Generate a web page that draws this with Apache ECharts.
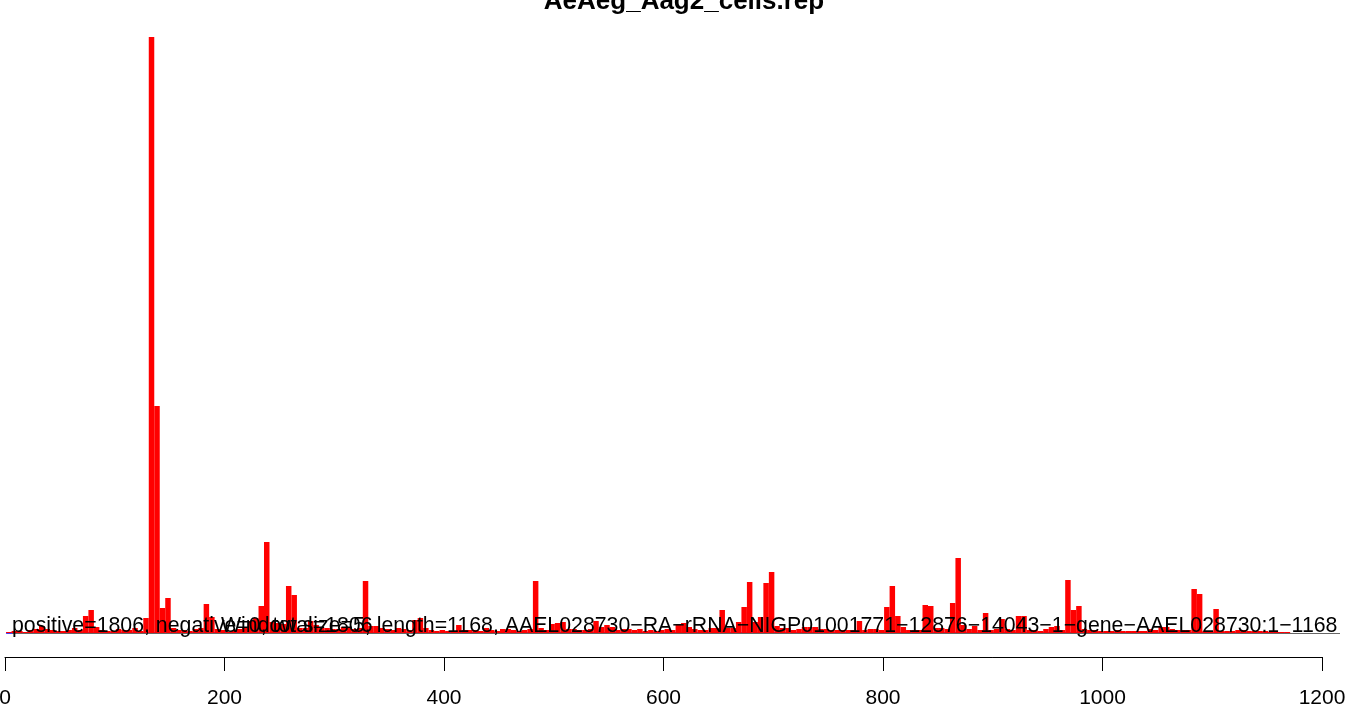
<!DOCTYPE html>
<html>
<head>
<meta charset="utf-8">
<script src="https://cdn.jsdelivr.net/npm/echarts@6/dist/echarts.min.js"></script>
<style>
html,body{margin:0;padding:0;background:#fff;}
#chart{width:1349px;height:704px;}
</style>
</head>
<body>
<div id="chart"></div>
<script>
// ---- data ----
const titleText = "AeAeg_Aag2_cells.rep";
const windowSize = 5;
const firstPosition = 1;
const seqLength = 1168;
const xTicks = [0, 200, 400, 600, 800, 1000, 1200];
const statsText = "positive=1806, negative=0, total=1806";
const infoText = "Window size=5, length=1168, AAEL028730\u2212RA\u2212rRNA\u2212NIGP01001771\u221212876\u221214043\u22121\u2212gene\u2212AAEL028730:1\u22121168";
// coverage per window (windows start at 1,6,11,...) – positive strand
const positiveCoverage = [
  1,2,2,1,3,4,7,4,3,2, 2,3,5,3,17,23,6,3,2,2,
  4,3,3,5,2,15,596,227,25,35, 5,3,3,2,4,5,29,16,4,3,
  1,2,4,5,12,15,27,91,11,10, 9,47,38,5,5,12,8,5,5,4,
  4,6,5,4,5,52,7,7,5,4, 3,5,4,3,13,15,5,3,2,3,
  2,2,8,3,3,3,2,5,3,2, 4,4,3,2,3,4,52,5,3,9,
  10,11,4,4,3,3,4,12,6,8, 6,3,4,4,3,4,2,3,2,3,
  4,3,9,10,6,4,3,3,5,5, 23,5,5,11,26,51,11,16,50,61,
  7,5,5,3,4,6,6,6,4,4, 3,3,3,3,3,12,3,4,4,3,
  26,47,17,6,3,3,3,28,27,5, 5,4,30,75,8,4,7,3,20,3,
  4,14,4,3,17,17,3,3,2,4, 6,7,3,53,23,27,4,3,3,2,
  2,2,3,2,2,2,2,2,4,3, 6,6,4,3,3,3,44,39,2,2,
  24,2,2,2,3,3,2,2,2,2, 1,1,1,1
];
// negative strand coverage (all zero)
const negativeCoverage = positiveCoverage.map(() => 0);

const posData = positiveCoverage.map((v, i) => [firstPosition + i * windowSize, v]);
const negData = negativeCoverage.map((v, i) => [firstPosition + i * windowSize, v]);

const chart = echarts.init(document.getElementById('chart'));
const FONT = "'Liberation Sans', Arial, Helvetica, sans-serif";

function rectItem(color) {
  return function (params, api) {
    const x0 = api.value(0), v = api.value(1);
    const p0 = api.coord([x0, 0]);
    const p1 = api.coord([x0 + windowSize, v]);
    return {
      type: 'rect',
      shape: { x: p0[0], y: p1[1], width: p1[0] - p0[0], height: p0[1] - p1[1] },
      style: { fill: color }
    };
  };
}

chart.setOption({
  animation: false,
  backgroundColor: '#ffffff',
  title: {
    text: titleText,
    left: 679, textAlign: 'center',
    top: -16,
    textStyle: { fontFamily: FONT, fontSize: 26, fontWeight: 'bold', color: '#000' }
  },
  grid: { left: 5, right: 27, top: 37, bottom: 47, containLabel: false, outerBoundsMode: 'none' },
  xAxis: {
    type: 'value', min: 0, max: 1200, interval: 200,
    axisLine: { onZero: false, lineStyle: { color: '#000', width: 1 } },
    axisTick: { length: 14, lineStyle: { color: '#000', width: 1 } },
    axisLabel: { margin: 31, fontFamily: FONT, fontSize: 21, color: '#000', formatter: v => String(v), hideOverlap: false },
    splitLine: { show: false }
  },
  yAxis: {
    type: 'value', min: -24, max: 596, show: false,
    splitLine: { show: false }
  },
  series: [
    {
      type: 'line', data: [[firstPosition, 0], [seqLength, 0]], symbol: 'none', silent: true,
      lineStyle: { color: '#0000ff', width: 1.5 }, z: 1
    },
    {
      type: 'custom', name: 'negative', data: negData, renderItem: rectItem('#0000ff'), z: 2
    },
    {
      type: 'custom', name: 'positive', data: posData, renderItem: rectItem('#ff0000'), z: 3
    }
  ],
  graphic: [
    { type: 'line', shape: { x1: 12, y1: 633.5, x2: 1340, y2: 633.5 }, style: { stroke: '#666', lineWidth: 1 }, z: 5 },
    { type: 'text', left: 12, top: 616, style: { text: statsText, fontFamily: FONT, fontSize: 21.3, fill: '#000' }, z: 10 },
    { type: 'text', left: 221, top: 616, style: { text: infoText, fontFamily: FONT, fontSize: 21.3, fill: '#000' }, z: 10 }
  ]
});
</script>
</body>
</html>
